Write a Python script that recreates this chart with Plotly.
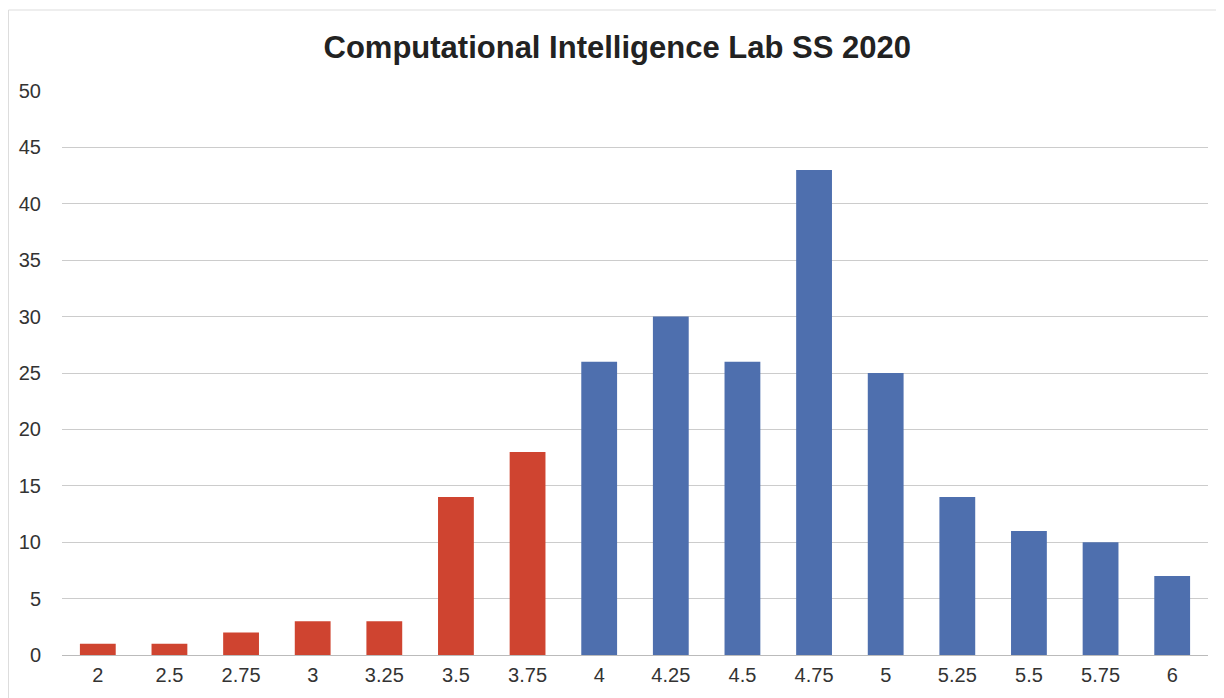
import plotly.graph_objects as go

grades = ["2", "2.5", "2.75", "3", "3.25", "3.5", "3.75", "4", "4.25", "4.5", "4.75", "5", "5.25", "5.5", "5.75", "6"]
counts = [1, 1, 2, 3, 3, 14, 18, 26, 30, 26, 43, 25, 14, 11, 10, 7]
fail_color = "#CF4430"
pass_color = "#4E6FAE"
colors = [fail_color if float(g) < 4 else pass_color for g in grades]

fig = go.Figure(go.Bar(
    x=grades, y=counts, marker=dict(color=colors, line=dict(width=0)), width=0.5,
))

W, H = 1216, 690
L, R, T, B = 54, 16, 83, 43
pw, ph = W - L - R, H - T - B
fig.update_layout(
    width=W, height=H,
    margin=dict(l=L, r=R, t=T, b=B),
    paper_bgcolor="white", plot_bgcolor="white",
    showlegend=False,
    title=dict(text="<b>Computational Intelligence Lab SS 2020</b>", x=0.501, xanchor="center",
               y=1 - 39 / H, yanchor="middle",
               font=dict(family="Liberation Sans, Arial", size=31, color="#222222")),
    font=dict(family="Liberation Sans, Arial", size=20, color="#333333"),
    xaxis=dict(type="category", showgrid=False, showline=False, ticks="", ticklabelstandoff=6),
    yaxis=dict(range=[0, 50], dtick=5, showgrid=True, gridcolor="#CCCCCC", gridwidth=1,
               zeroline=True, zerolinecolor="#BBBBBB", zerolinewidth=1, showline=False,
               ticks="", ticklabelstandoff=20),
    shapes=[dict(type="rect", xref="paper", yref="paper", x0=-(L - 0.5) / pw, x1=1 + (R + 5) / pw,
                 y0=-0.2, y1=1 + (T - 2) / ph,
                 line=dict(color="#DDDDDD", width=1), fillcolor="rgba(0,0,0,0)", layer="below")],
)

fig.write_html("out.html")
